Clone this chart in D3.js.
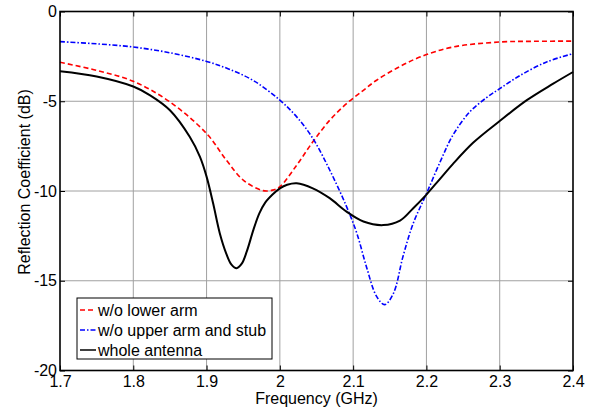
<!DOCTYPE html>
<html>
<head>
<meta charset="utf-8">
<script src="https://cdn.jsdelivr.net/npm/d3@7"></script>
<style>
  html, body { margin: 0; padding: 0; background: #fff; }
  svg { display: block; font-family: "Liberation Sans", Arial, sans-serif; }
</style>
</head>
<body>
<svg id="chart" width="597" height="408"></svg>
<script>
// ---- data ----
const xTicks = [1.7, 1.8, 1.9, 2.0, 2.1, 2.2, 2.3, 2.4];
const xTickLabels = ["1.7", "1.8", "1.9", "2", "2.1", "2.2", "2.3", "2.4"];
const yTicks = [0, -5, -10, -15, -20];
const yTickLabels = ["0", "-5", "-10", "-15", "-20"];
const seriesNames = ["w/o lower arm", "w/o upper arm and stub", "whole antenna"];

const freqLower = [1.70, 1.75, 1.80, 1.85, 1.90, 1.927, 1.95, 1.977, 1.99, 2.00, 2.023, 2.045, 2.068, 2.091, 2.114, 2.132, 2.16, 2.191, 2.236, 2.30, 2.35, 2.40];
const dbLower   = [-2.83, -3.28, -3.89, -5.04, -6.80, -8.28, -9.39, -9.98, -9.95, -9.76, -8.56, -7.26, -6.06, -5.13, -4.39, -3.83, -3.15, -2.54, -1.98, -1.70, -1.66, -1.65];

const freqUpper = [1.70, 1.75, 1.80, 1.85, 1.90, 1.93, 1.964, 2.00, 2.023, 2.045, 2.068, 2.091, 2.105, 2.118, 2.132, 2.143, 2.155, 2.168, 2.182, 2.20, 2.219, 2.236, 2.259, 2.282, 2.30, 2.328, 2.364, 2.40];
const dbUpper   = [-1.68, -1.80, -1.98, -2.30, -2.78, -3.20, -3.85, -4.94, -5.87, -7.07, -8.83, -10.87, -12.35, -14.20, -15.87, -16.33, -15.70, -13.65, -11.80, -10.15, -8.35, -6.90, -5.60, -4.80, -4.30, -3.56, -2.81, -2.35];

const freqWhole = [1.70, 1.75, 1.80, 1.823, 1.85, 1.877, 1.891, 1.90, 1.909, 1.918, 1.927, 1.934, 1.941, 1.948, 1.955, 1.964, 1.972, 1.98, 1.99, 2.00, 2.01, 2.023, 2.045, 2.068, 2.091, 2.114, 2.141, 2.164, 2.182, 2.20, 2.218, 2.236, 2.264, 2.30, 2.337, 2.373, 2.40];
const dbWhole   = [-3.33, -3.62, -4.18, -4.67, -5.50, -6.98, -8.10, -9.20, -10.70, -12.35, -13.50, -14.10, -14.30, -14.05, -13.35, -12.15, -11.25, -10.65, -10.20, -9.85, -9.65, -9.57, -9.85, -10.40, -11.15, -11.70, -11.90, -11.65, -10.96, -10.20, -9.35, -8.50, -7.30, -6.10, -4.94, -4.02, -3.37];

// ---- layout ----
const svg = d3.select("#chart");
const L = 60, R = 573, T = 11.5, B = 370.5;
const x = d3.scaleLinear().domain([1.7, 2.4]).range([L, R]);
const y = d3.scaleLinear().domain([-20, 0]).range([B, T]);

// grid
const grid = svg.append("g");
grid.selectAll("line.vx").data(xTicks.slice(1, -1)).enter().append("line")
  .attr("x1", d => x(d)).attr("x2", d => x(d)).attr("y1", T).attr("y2", B)
  .attr("stroke", "#a0a0a0").attr("stroke-width", 1);
grid.selectAll("line.hy").data(yTicks.slice(1, -1)).enter().append("line")
  .attr("x1", L).attr("x2", R).attr("y1", d => y(d)).attr("y2", d => y(d))
  .attr("stroke", "#a0a0a0").attr("stroke-width", 1);

// axes
const xAxisB = d3.axisBottom(x).tickValues(xTicks).tickFormat((d, i) => xTickLabels[i]).tickSizeInner(-5).tickSizeOuter(0).tickPadding(5);
const xAxisT = d3.axisTop(x).tickValues(xTicks).tickFormat("").tickSizeInner(-5).tickSizeOuter(0);
const yAxisL = d3.axisLeft(y).tickValues(yTicks).tickFormat((d, i) => yTickLabels[i]).tickSizeInner(-5).tickSizeOuter(0).tickPadding(3);
const yAxisR = d3.axisRight(y).tickValues(yTicks).tickFormat("").tickSizeInner(-5).tickSizeOuter(0);

function styleAxis(g) {
  g.select(".domain").remove();
  g.selectAll(".tick line").attr("stroke", "#000").attr("stroke-width", 1);
  g.selectAll(".tick text").attr("fill", "#000").style("font-size", "16px").style("font-family", "Liberation Sans, Arial, sans-serif");
}
svg.append("g").attr("transform", `translate(0,${B})`).call(xAxisB).call(styleAxis);
svg.append("g").attr("transform", `translate(0,${T})`).call(xAxisT).call(styleAxis);
svg.append("g").attr("transform", `translate(${L},0)`).call(yAxisL).call(styleAxis);
svg.append("g").attr("transform", `translate(${R},0)`).call(yAxisR).call(styleAxis);

// lines
const line = d3.line().x(d => x(d[0])).y(d => y(d[1])).curve(d3.curveCatmullRom.alpha(0.5));
const zip = (a, b) => a.map((v, i) => [v, b[i]]);
const series = [
  { pts: zip(freqLower, dbLower), color: "#ff0000", dash: "5,3", w: 1.6 },
  { pts: zip(freqUpper, dbUpper), color: "#0000ff", dash: "5,2,1.5,2", w: 1.6 },
  { pts: zip(freqWhole, dbWhole), color: "#000000", dash: null, w: 2 }
];
const plot = svg.append("g");
series.forEach(s => {
  plot.append("path").datum(s.pts).attr("d", line)
    .attr("fill", "none").attr("stroke", s.color).attr("stroke-width", s.w)
    .attr("stroke-dasharray", s.dash);
});

// frame
svg.append("rect").attr("x", L).attr("y", T).attr("width", R - L).attr("height", B - T)
  .attr("fill", "none").attr("stroke", "#000").attr("stroke-width", 1.6);

// axis titles
svg.append("text").attr("x", (L + R) / 2).attr("y", 404).attr("text-anchor", "middle")
  .style("font-size", "16px").text("Frequency (GHz)");
svg.append("text").attr("transform", `translate(30,182) rotate(-90)`).attr("text-anchor", "middle")
  .style("font-size", "16px").text("Reflection Coefficient (dB)");

// legend
const lg = svg.append("g");
lg.append("rect").attr("x", 77).attr("y", 298).attr("width", 195).attr("height", 61)
  .attr("fill", "#fff").attr("stroke", "#000").attr("stroke-width", 1);
series.forEach((s, i) => {
  const cy = 310 + i * 20;
  lg.append("line").attr("x1", 80).attr("x2", 96).attr("y1", cy).attr("y2", cy)
    .attr("stroke", s.color).attr("stroke-width", 1.5).attr("stroke-dasharray", s.dash);
  lg.append("text").attr("x", 98).attr("y", cy + 6).style("font-size", "16px").text(seriesNames[i]);
});
</script>
</body>
</html>
